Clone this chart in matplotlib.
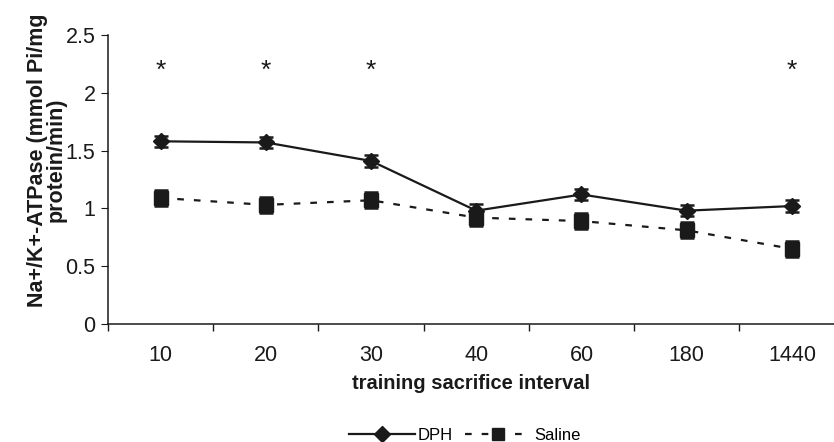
import matplotlib
matplotlib.use("Agg")
import matplotlib.pyplot as plt
from matplotlib.lines import Line2D
import numpy as np

plt.rcParams['font.family'] = ['Liberation Sans', 'DejaVu Sans']

intervals = ["10", "20", "30", "40", "60", "180", "1440"]
dph = [1.58, 1.57, 1.41, 0.98, 1.12, 0.98, 1.02]
dph_err = [0.05, 0.05, 0.05, 0.06, 0.05, 0.05, 0.05]
saline = [1.09, 1.03, 1.07, 0.92, 0.89, 0.81, 0.65]
saline_err = [0.07, 0.07, 0.07, 0.07, 0.07, 0.07, 0.07]
significant = [True, True, True, False, False, False, True]
star_y = 2.19

ink = '#1a1a1a'
fig = plt.figure(figsize=(8.34, 4.42), dpi=100)
ax = fig.add_axes([0.1295, 0.267, 0.8705, 0.654])

x = np.arange(len(intervals))
ax.errorbar(x, dph, yerr=dph_err, color=ink, marker='D', markersize=8.5,
            linewidth=1.6, capsize=5, capthick=1.8, elinewidth=1.2)
ax.errorbar(x, saline, yerr=saline_err, color=ink, marker='s', markersize=10,
            linewidth=1.6, linestyle=(0, (3, 4.5)), capsize=5, capthick=1.8,
            elinewidth=1.2)

for xi, s in zip(x, significant):
    if s:
        ax.text(xi, star_y, '*', ha='center', va='center', fontsize=19, color=ink)

ax.set_xlim(-0.5, 6.4)
ax.set_ylim(0, 2.5)
ax.set_yticks([0, 0.5, 1, 1.5, 2, 2.5])
ax.set_yticklabels(['0', '0.5', '1', '1.5', '2', '2.5'])
ax.set_xticks(x)
ax.set_xticklabels(intervals)
ax.tick_params(axis='x', length=0, labelsize=15.5, pad=15, colors=ink)
ax.set_xticks(np.arange(-0.5, 6.5, 1.0), minor=True)
ax.tick_params(axis='x', which='minor', length=5, direction='out', width=1, colors=ink)
ax.tick_params(axis='y', length=5, direction='out', labelsize=15.5, pad=4, colors=ink)

for side in ['top', 'right']:
    ax.spines[side].set_visible(False)
for side in ['left', 'bottom']:
    ax.spines[side].set_linewidth(1.1)
    ax.spines[side].set_color(ink)

ax.set_xlabel('training sacrifice interval', fontsize=14.5, fontweight='bold',
              labelpad=6, color=ink)
ax.set_ylabel('Na+/K+-ATPase (mmol Pi/mg\nprotein/min)', fontsize=15.5,
              fontweight='bold', linespacing=0.88, color=ink)
ax.yaxis.set_label_coords(-0.057, 0.567)

handles = [
    Line2D([], [], color=ink, marker='D', markersize=8, linewidth=1.6),
    Line2D([], [], color=ink, marker='s', markersize=9, linewidth=1.6,
           linestyle=(0, (3, 4.5))),
]
fig.legend(handles, ['DPH', 'Saline'], loc='center', bbox_to_anchor=(0.557, 0.015),
           ncol=2, frameon=False, fontsize=12, handlelength=4.0,
           columnspacing=0.7, handletextpad=0.15)

fig.savefig('out.png', dpi=100)
